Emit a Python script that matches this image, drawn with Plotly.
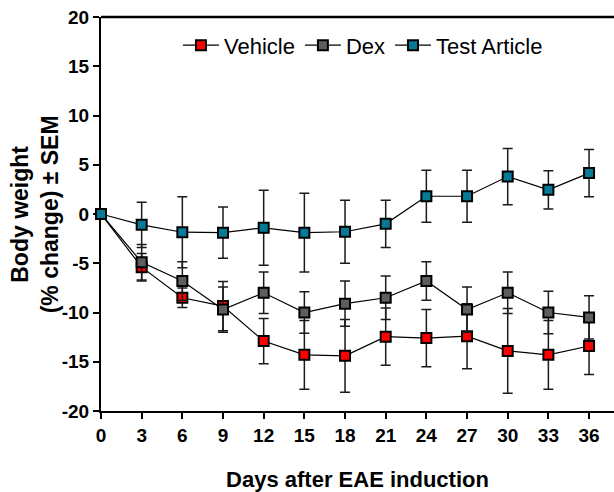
import plotly.graph_objects as go

days = [0, 3, 6, 9, 12, 15, 18, 21, 24, 27, 30, 33, 36]
vehicle = [0, -5.4, -8.5, -9.35, -12.9, -14.3, -14.4, -12.45, -12.6, -12.4, -13.9, -14.3, -13.4]
vehicle_sem = [0, 1.4, 1.0, 2.5, 2.3, 3.5, 3.7, 2.9, 2.9, 3.3, 4.3, 3.5, 2.9]
dex = [0, -4.9, -6.8, -9.7, -8.0, -10.0, -9.1, -8.5, -6.8, -9.7, -8.0, -10.0, -10.5]
dex_sem = [0, 1.8, 1.95, 2.3, 2.1, 2.1, 2.3, 2.2, 1.95, 2.3, 2.1, 2.15, 2.2]
test_article = [0, -1.1, -1.85, -1.9, -1.4, -1.9, -1.8, -1.0, 1.8, 1.8, 3.8, 2.45, 4.15]
test_article_sem = [0, 2.3, 3.6, 2.6, 3.8, 4.0, 3.2, 2.4, 2.65, 2.65, 2.85, 1.95, 2.4]

series_names = ["Vehicle", "Dex", "Test Article"]
series_values = [vehicle, dex, test_article]
series_sem = [vehicle_sem, dex_sem, test_article_sem]
colors = ["#FF0000", "#5E5E5E", "#067A96"]

x_ticks = list(range(0, 37, 3))
y_ticks = list(range(-20, 21, 5))

x_title = "Days after EAE induction"
y_title = "Body weight<br>(% change) ± SEM"

FONT = "Arial, 'Liberation Sans', sans-serif"

fig = go.Figure()
for name, vals, sem, col in zip(series_names, series_values, series_sem, colors):
    fig.add_trace(go.Scatter(
        x=days, y=vals, name=name, mode="lines+markers",
        line=dict(color="black", width=1.2),
        marker=dict(symbol="square", size=10, color=col,
                    line=dict(color="black", width=2)),
        error_y=dict(type="data", array=sem, visible=True,
                     color="#1a1a1a", thickness=1.5, width=5),
        cliponaxis=False,
    ))

fig.update_layout(
    width=614, height=492,
    margin=dict(l=101, r=0, t=17, b=81),
    paper_bgcolor="white", plot_bgcolor="white",
    font=dict(family=FONT, color="black"),
    showlegend=True,
    legend=dict(orientation="h", x=0.150, y=0.928, xanchor="left", yanchor="middle",
                font=dict(size=22, family=FONT), bgcolor="rgba(0,0,0,0)",
                itemwidth=36, tracegroupgap=0),
    shapes=[dict(type="line", xref="paper", yref="paper", x0=0, x1=1.02, y0=1, y1=1,
                 line=dict(color="black", width=2.5), layer="above")],
    annotations=[dict(text="<b>" + y_title + "</b>", xref="paper", yref="paper",
                      x=-0.128, y=0.5, xanchor="center", yanchor="middle",
                      textangle=-90, showarrow=False,
                      font=dict(size=23, family=FONT, color="black"))],
)

fig.update_xaxes(
    range=[0, 37.84], tickvals=x_ticks, ticktext=[str(t) for t in x_ticks],
    showgrid=False, zeroline=False, showline=True, linecolor="black", linewidth=2,
    ticks="outside", ticklen=6, tickwidth=2, tickcolor="black",
    tickfont=dict(size=19, weight="bold", family=FONT),
    ticklabeloverflow="allow",
    title=dict(text="<b>" + x_title + "</b>", font=dict(size=22, family=FONT), standoff=28),
    layer="below traces", automargin=False,
)
fig.update_yaxes(
    range=[-20, 20], tickvals=y_ticks, ticktext=[str(t) for t in y_ticks],
    showgrid=False, zeroline=False, showline=True, linecolor="black", linewidth=2,
    ticks="outside", ticklen=6, tickwidth=2, tickcolor="black",
    tickfont=dict(size=19, weight="bold", family=FONT),
    ticklabeloverflow="allow",
    layer="below traces", automargin=False,
)

fig.write_html(
    "out.html",
    config={"displayModeBar": False},
    post_script="document.body.style.margin='0';document.body.style.overflow='hidden';",
)
